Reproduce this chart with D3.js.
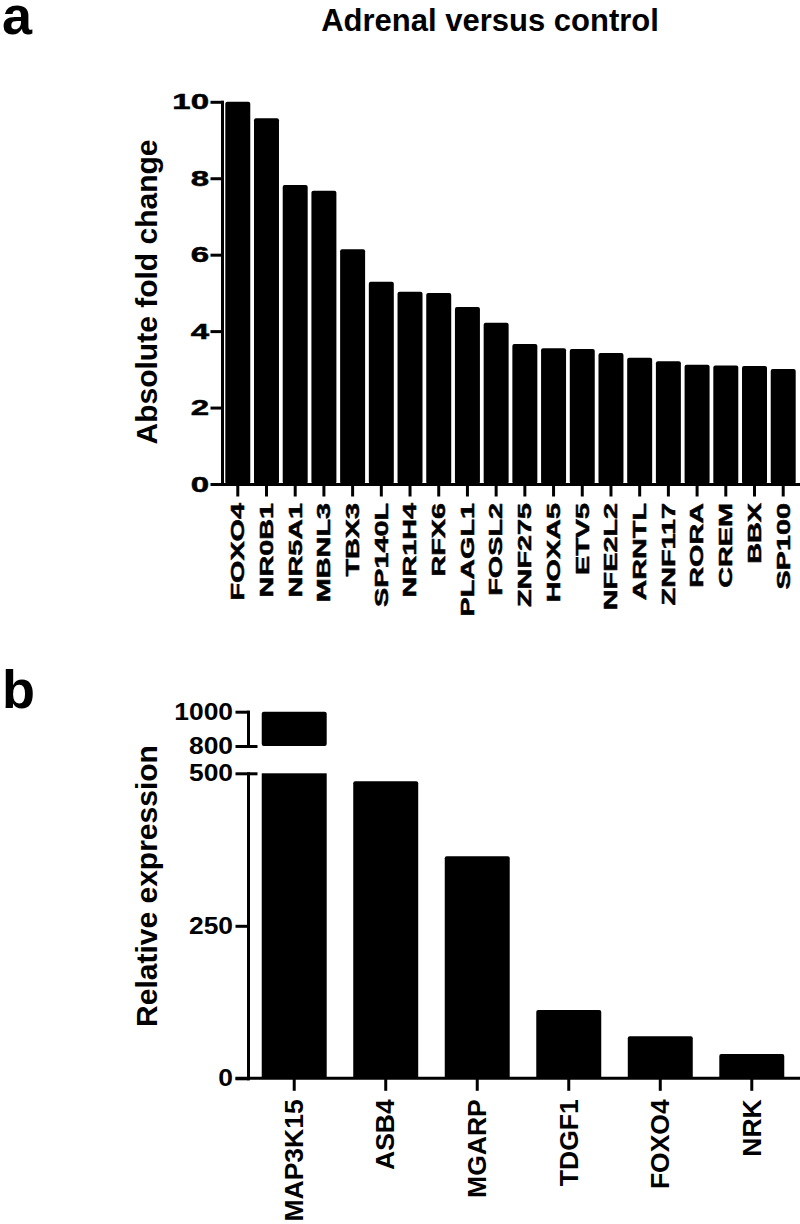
<!DOCTYPE html>
<html>
<head>
<meta charset="utf-8">
<script src="https://cdn.jsdelivr.net/npm/d3@7"></script>
<style>
  body { margin: 0; background: #fff; }
  svg { display: block; font-family: "Liberation Sans", Arial, sans-serif; font-weight: bold; }
  .axis path, .axis line { stroke: #000; stroke-width: 3; stroke-linecap: square; }
  .axis text { fill: #000; font-weight: bold; font-family: "Liberation Sans", Arial, sans-serif; }
  .heavy text { stroke: #000; stroke-width: 0.5; }
</style>
</head>
<body>
<svg id="chart" width="800" height="1224"></svg>
<script>
// panel a data
var genesA = ["FOXO4", "NR0B1", "NR5A1", "MBNL3", "TBX3", "SP140L", "NR1H4", "RFX6", "PLAGL1", "FOSL2",
  "ZNF275", "HOXA5", "ETV5", "NFE2L2", "ARNTL", "ZNF117", "RORA", "CREM", "BBX", "SP100"];
var foldA = [10, 9.57, 7.82, 7.67, 6.14, 5.29, 5.03, 5.0, 4.63, 4.22,
  3.66, 3.55, 3.53, 3.43, 3.30, 3.21, 3.12, 3.10, 3.09, 3.01];
var yTicksA = [0, 2, 4, 6, 8, 10];

// panel b data (broken y axis)
var genesB = ["MAP3K15", "ASB4", "MGARP", "TDGF1", "FOXO4", "NRK"];
var exprB = [1000, 487, 364, 112, 69, 40];
var yTicksBLow = [0, 250, 500];
var yTicksBHigh = [800, 1000];

var svg = d3.select("#chart");

/******** Panel a ************/
svg.append("text")
    .attr("x", 2).attr("y", 34)
    .style("font-size", "54px")
    .text("a");

svg.append("text")
    .attr("x", 490).attr("y", 30.5)
    .attr("text-anchor", "middle")
    .style("font-size", "31px")
    .text("Adrenal versus control");

var xA = d3.scaleBand()
    .domain(genesA)
    .range([222, 799])
    .paddingInner(0.13)
    .paddingOuter(0.115);

var yA = d3.scaleLinear()
    .domain([0, 10])
    .range([484, 101.8]);

svg.append("g")
    .selectAll("rect")
    .data(genesA)
    .join("rect")
    .attr("x", d => xA(d))
    .attr("width", xA.bandwidth())
    .attr("y", (d, i) => yA(foldA[i]))
    .attr("height", (d, i) => yA(0) - yA(foldA[i]))
    .attr("rx", 2)
    .attr("fill", "#000");

var axisYA = svg.append("g")
    .attr("class", "axis heavy")
    .attr("transform", "translate(222,0)")
    .call(d3.axisLeft(yA).tickValues(yTicksA).tickSize(10).tickSizeOuter(0));
axisYA.selectAll("text")
    .attr("x", null)
    .attr("text-anchor", "end")
    .attr("transform", "translate(-13,0) scale(1.5,1)")
    .style("font-size", "22px");

var axisXA = svg.append("g")
    .attr("class", "axis heavy")
    .attr("transform", "translate(0,484)")
    .call(d3.axisBottom(xA).tickSize(11).tickSizeOuter(0));
axisXA.selectAll("text")
    .attr("y", null).attr("dy", "0.35em")
    .attr("text-anchor", "end")
    .attr("transform", "translate(0,19) rotate(-90) scale(1.6,1)")
    .style("font-size", "18px");

svg.append("text")
    .attr("transform", "translate(157,292) rotate(-90)")
    .attr("text-anchor", "middle")
    .style("font-size", "30px")
    .text("Absolute fold change");

/******** Panel b ************/
svg.append("text")
    .attr("x", 2).attr("y", 708)
    .style("font-size", "54px")
    .text("b");

var xB = d3.scaleBand()
    .domain(genesB)
    .range([248, 798])
    .paddingInner(0.29)
    .paddingOuter(0.15);

var yLow = d3.scaleLinear().domain([0, 500]).range([1078.3, 773.3]);
var yHigh = d3.scaleLinear().domain([800, 1000]).range([746, 711.7]);

var barsB = svg.append("g");
genesB.forEach(function(g, i) {
    var v = exprB[i];
    var low = Math.min(v, 500);
    barsB.append("rect")
        .attr("x", xB(g)).attr("width", xB.bandwidth())
        .attr("y", yLow(low)).attr("height", yLow(0) - yLow(low))
        .attr("rx", v > 500 ? 0 : 2)
        .attr("fill", "#000");
    if (v > 800) {
        barsB.append("rect")
            .attr("x", xB(g)).attr("width", xB.bandwidth())
            .attr("y", yHigh(v)).attr("height", yHigh(800) - yHigh(v))
            .attr("rx", 2)
            .attr("fill", "#000");
    }
});

var axisYLow = svg.append("g")
    .attr("class", "axis")
    .attr("transform", "translate(248,0)")
    .call(d3.axisLeft(yLow).tickValues(yTicksBLow).tickFormat(d3.format("d")).tickSize(11).tickSizeOuter(0));
var axisYHigh = svg.append("g")
    .attr("class", "axis")
    .attr("transform", "translate(248,0)")
    .call(d3.axisLeft(yHigh).tickValues(yTicksBHigh).tickFormat(d3.format("d")).tickSize(11).tickSizeOuter(0));

[axisYLow, axisYHigh].forEach(function(ax) {
    ax.selectAll("text")
        .attr("x", null)
        .attr("text-anchor", "end")
        .attr("transform", "translate(-15,0) scale(1.1,1)")
        .style("font-size", "24px");
});

// break marks: ticks at 500 and 800 cross the axis
axisYLow.selectAll(".tick").filter(d => d === 500).select("line").attr("x1", 8);
axisYHigh.selectAll(".tick").filter(d => d === 800).select("line").attr("x1", 8);

var axisXB = svg.append("g")
    .attr("class", "axis")
    .attr("transform", "translate(0,1078.3)")
    .call(d3.axisBottom(xB).tickSize(11).tickSizeOuter(0));
axisXB.select(".domain").attr("d", "M237,0H799");
axisXB.selectAll("text")
    .attr("y", null).attr("dy", "0.35em")
    .attr("text-anchor", "end")
    .attr("transform", "translate(0,21) rotate(-90) scale(1.06,1)")
    .style("font-size", "25px");

svg.append("text")
    .attr("transform", "translate(157,886) rotate(-90)")
    .attr("text-anchor", "middle")
    .style("font-size", "30px")
    .text("Relative expression");
</script>
</body>
</html>
